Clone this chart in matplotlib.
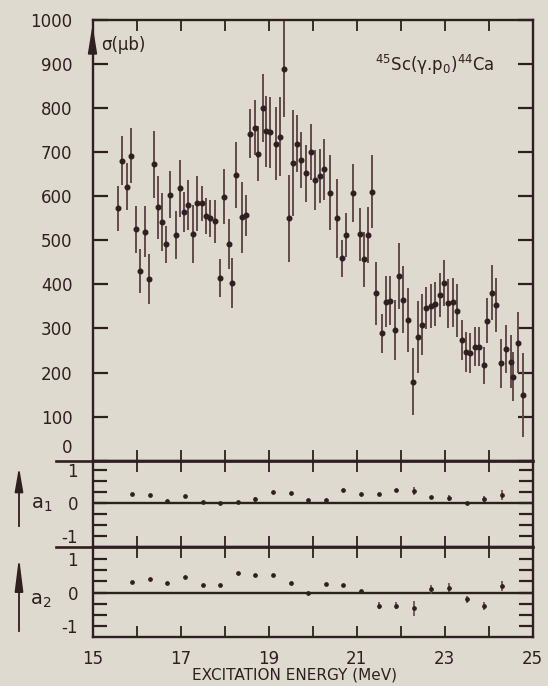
import matplotlib
matplotlib.use("Agg")
import matplotlib.pyplot as plt
from matplotlib.lines import Line2D
from matplotlib.patches import Polygon

# 45Sc(gamma, p0)44Ca cross section
energy = [15.57, 15.66, 15.78, 15.87, 15.98, 16.08, 16.20, 16.28, 16.39, 16.49,
          16.58, 16.68, 16.77, 16.89, 16.98, 17.08, 17.17, 17.29, 17.38, 17.48,
          17.59, 17.68, 17.79, 17.89, 17.98, 18.10, 18.18, 18.27, 18.39, 18.48,
          18.57, 18.69, 18.75, 18.87, 18.95, 19.04, 19.17, 19.26, 19.35, 19.46,
          19.55, 19.65, 19.73, 19.86, 19.96, 20.05, 20.17, 20.26, 20.39, 20.56,
          20.66, 20.76, 20.92, 21.08, 21.17, 21.25, 21.36, 21.45, 21.57, 21.67,
          21.76, 21.87, 21.96, 22.06, 22.16, 22.29, 22.40, 22.48, 22.59, 22.69,
          22.78, 22.89, 22.98, 23.08, 23.19, 23.29, 23.39, 23.48, 23.58, 23.69,
          23.79, 23.89, 23.97, 24.07, 24.18, 24.28, 24.39, 24.50, 24.56, 24.67,
          24.79]
sigma = [573, 681, 622, 692, 525, 430, 520, 413, 673, 575,
         542, 491, 604, 512, 618, 565, 580, 514, 584, 584,
         555, 550, 543, 414, 599, 492, 404, 648, 552, 557,
         742, 756, 697, 800, 747, 745, 719, 735, 889, 550,
         675, 719, 682, 652, 701, 637, 646, 661, 608, 550,
         459, 512, 608, 514, 457, 512, 610, 380, 289, 361,
         363, 297, 419, 365, 319, 179, 280, 309, 346, 352,
         356, 376, 403, 357, 359, 340, 274, 247, 245, 259,
         259, 217, 318, 381, 353, 221, 253, 225, 191, 268,
         149]
sigma_err = [51, 56, 54, 62, 53, 50, 57, 57, 76, 72,
             66, 42, 54, 54, 64, 45, 57, 66, 62, 40,
             40, 42, 49, 43, 62, 56, 57, 75, 80, 46,
             55, 62, 62, 77, 80, 80, 83, 90, 110, 98,
             120, 65, 64, 64, 64, 68, 62, 70, 85, 90,
             42, 49, 66, 60, 62, 64, 83, 72, 45, 57,
             55, 68, 74, 76, 72, 76, 82, 70, 48, 50,
             50, 50, 53, 55, 55, 60, 45, 45, 45, 45,
             45, 42, 51, 62, 62, 55, 55, 60, 55, 70,
             95]

# Legendre coefficients of the angular distributions
coef_energy = [15.9, 16.3, 16.7, 17.1, 17.5, 17.9, 18.3, 18.7, 19.1, 19.5, 19.9,
               20.3, 20.7, 21.1, 21.5, 21.9, 22.3, 22.7, 23.1, 23.5, 23.9, 24.3]
a1 = [0.27, 0.25, 0.07, 0.22, 0.04, 0.02, 0.05, 0.12, 0.33, 0.30, 0.10,
      0.10, 0.40, 0.27, 0.27, 0.40, 0.37, 0.20, 0.17, 0.00, 0.12, 0.25]
a1_err = [0.03, 0.03, 0.03, 0.03, 0.03, 0.03, 0.03, 0.07, 0.03, 0.03, 0.03,
          0.03, 0.03, 0.03, 0.03, 0.03, 0.12, 0.03, 0.09, 0.03, 0.09, 0.15]
a2 = [0.32, 0.42, 0.29, 0.47, 0.22, 0.22, 0.59, 0.52, 0.52, 0.28, -0.02,
      0.26, 0.24, 0.05, -0.39, -0.39, -0.47, 0.10, 0.15, -0.20, -0.39, 0.20]
a2_err = [0.03, 0.03, 0.03, 0.03, 0.03, 0.03, 0.03, 0.03, 0.03, 0.03, 0.03,
          0.03, 0.03, 0.03, 0.11, 0.10, 0.23, 0.13, 0.14, 0.11, 0.12, 0.15]

paper = '#dfdad0'
ink = '#2e1f20'
bar_col = '#634a4b'

W, H = 548, 686
plt.rcParams['font.family'] = ['DejaVu Sans']

fig = plt.figure(figsize=(W / 100, H / 100), dpi=100)
fig.patch.set_facecolor(paper)


def box(x0, y0, x1, y1):
    # pixel box measured from the top left corner -> figure fraction
    return [x0 / W, 1 - y1 / H, (x1 - x0) / W, (y1 - y0) / H]


def fpos(x, y):
    return (x / W, 1 - y / H)


ax = fig.add_axes(box(92.5, 20, 532.5, 460.7))
ax1 = fig.add_axes(box(92.5, 460.7, 532.5, 547.3))
ax2 = fig.add_axes(box(92.5, 547.3, 532.5, 636.7))

for a in (ax, ax1, ax2):
    a.set_facecolor('none')
    a.set_xlim(15, 25)
    for sp in a.spines.values():
        sp.set_color(ink)
        sp.set_linewidth(1.7)

# cross section panel
ax.errorbar(energy, sigma, yerr=sigma_err, fmt='o', ms=3.3, color=ink,
            ecolor=bar_col, elinewidth=1.4, capsize=0)
ax.set_ylim(0, 1000)
ax.set_yticks(range(0, 1001, 100))
ax.set_yticklabels([''] + [str(v) for v in range(100, 1001, 100)])
ax.tick_params(axis='y', direction='in', length=11, width=1.6, left=True,
               right=True, pad=14.4, labelsize=12, colors=ink)
ax.set_xticks(range(16, 25))
ax.tick_params(axis='x', direction='in', length=8, width=1.3, top=True,
               bottom=True, labelbottom=False, colors=ink)
ax.annotate('0', xy=(0, 0), xycoords=('axes fraction', 'data'),
            xytext=(-14.4, 9), textcoords='offset points', ha='right',
            va='center', fontsize=12, color=ink)
ax.text(15.2, 943, 'σ(μb)', fontsize=12, color=ink, va='center')
ax.text(21.42, 897, r'$^{45}$Sc(γ.p$_0$)$^{44}$Ca', fontsize=12, color=ink,
        va='center')

# a1 and a2 panels
for a, vals, errs, lim in ((ax1, a1, a1_err, (-1.33, 1.29)),
                           (ax2, a2, a2_err, (-1.31, 1.35))):
    a.axhline(0, color=ink, lw=1.7)
    a.errorbar(coef_energy, vals, yerr=errs, fmt='o', ms=2.4, color=ink,
               ecolor=bar_col, elinewidth=1.2, capsize=0)
    a.set_ylim(*lim)
    a.set_yticks([-1, 0, 1])
    a.set_yticklabels(['-1', '0', '1'])
    a.set_yticks([-2 / 3, -1 / 3, 1 / 3, 2 / 3], minor=True)
    a.tick_params(axis='y', which='both', direction='in', length=10,
                  width=1.6, left=True, right=True, pad=10.4, labelsize=12,
                  colors=ink)
    a.tick_params(axis='x', direction='in', length=8, width=1.3, top=True,
                  bottom=True, colors=ink)

ax1.set_xticks(range(16, 25))
ax1.tick_params(axis='x', labelbottom=False)
ax2.set_xticks(range(15, 26))
ax2.set_xticklabels([str(v) if v % 2 else '' for v in range(15, 26)])
ax2.tick_params(axis='x', labelsize=12, pad=9.5)

# panel dividers run out past the left axis
for yb in (460.7, 547.3):
    (x0, y0), (x1, _) = fpos(56, yb), fpos(532.5, yb)
    fig.add_artist(Line2D([x0, x1], [y0, y0], color=ink, lw=1.9))

# ordinate arrows
fig.add_artist(Polygon([fpos(88.5, 54), fpos(96.5, 54), fpos(92.5, 29)],
                       closed=True, color=ink, transform=fig.transFigure))
for tail, tip, hl in ((526, 467, 1.45), (631, 557, 2.0)):
    fig.add_artist(Line2D([19 / W, 19 / W], [fpos(0, tail)[1], fpos(0, tip + 15)[1]],
                          color=ink, lw=1.3))
    ax.annotate('', xy=fpos(19, tip), xytext=fpos(19, tip + 25),
                xycoords='figure fraction',
                arrowprops=dict(arrowstyle=f'-|>,head_length={hl},head_width=0.25',
                                color=ink, lw=1.3, shrinkA=0, shrinkB=0))
fig.text(*fpos(31, 504), 'a$_1$', fontsize=14, color=ink, va='center')
fig.text(*fpos(30, 600), 'a$_2$', fontsize=14, color=ink, va='center')

fig.text(*fpos(295, 675), 'EXCITATION ENERGY (MeV)', fontsize=11,
         color=ink, ha='center', va='center')

fig.savefig('out.png', dpi=100, facecolor=paper)
